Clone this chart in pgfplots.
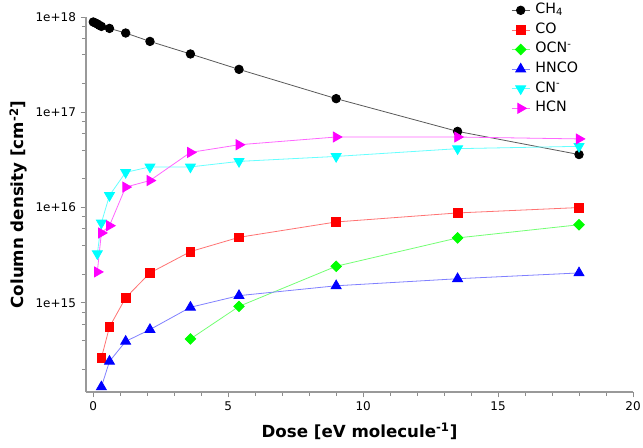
\documentclass[border=0pt]{standalone}
\usepackage{fontspec}
\setmainfont{DejaVu Sans}
\usepackage{pgfplots}
\pgfplotsset{compat=1.18}
\usetikzlibrary{calc}
\definecolor{ocngreen}{RGB}{0,255,0}
\definecolor{cncyan}{RGB}{0,255,255}
\definecolor{hcnmag}{RGB}{255,0,255}
\begin{document}
\begin{tikzpicture}
\begin{axis}[
  scale only axis,
  width=410.25pt, height=281.25pt,
  xmin=-0.27, xmax=20,
  ymode=log, ymin=1.16e14, ymax=1e18,
  clip=false,
  axis lines*=left,
  axis line style={draw=black!40, line width=0.9pt, -},
  tick align=outside,
  tick style={draw=black!45, line width=0.6pt},
  major tick length=4pt, minor tick length=3pt,
  xtick={0,5,10,15,20}, minor xtick={1,2,3,4,6,7,8,9,11,12,13,14,16,17,18,19},
  ytick={1e15,1e16,1e17,1e18},
  yticklabels={1e+15,1e+16,1e+17,1e+18},
  minor ytick={2e14,4e14,6e14,8e14,2e15,4e15,6e15,8e15,2e16,4e16,6e16,8e16,2e17,4e17,6e17,8e17},
  /pgf/number format/assume math mode=true,
  tick label style={font=\fontsize{9}{10}\selectfont},
  xlabel={\bfseries Dose [eV molecule\textsuperscript{-1}]},
  ylabel={\bfseries Column density [cm\textsuperscript{-2}]},
  label style={font=\fontsize{12.5}{14}\selectfont},
  xlabel style={at={(axis description cs:0.5,-0.1059)}, anchor=center},
  ylabel style={at={(axis description cs:-0.1234,0.5)}, anchor=center},
  legend cell align=left,
  legend style={at={(axis description cs:0.777,1.04)}, anchor=north west,
    draw=none, fill=none, font=\fontsize{10.7}{12}\selectfont, row sep=2.6pt,
    inner sep=0pt,
    nodes={inner sep=1pt, text height=7.6pt, text depth=2.5pt}},
  legend image code/.code={\draw[mark repeat=2,mark phase=2] plot coordinates {(0pt,0pt)(6.75pt,0pt)(13.5pt,0pt)};
    \path (16.5pt,0pt);},
]
\coordinate (o) at (rel axis cs:0,0);

% CH4
\addplot[black!65, line width=0.6pt, mark=*, mark size=3.2pt,
  mark options={draw=black, fill=black}] coordinates {
  (0,8.86e17)(0.075,8.65e17)(0.15,8.45e17)(0.225,8.17e17)(0.3,7.97e17)
  (0.6,7.59e17)(1.2,6.79e17)(2.1,5.54e17)(3.6,4.09e17)(5.4,2.82e17)
  (9,1.39e17)(13.5,6.3e16)(18,3.6e16)
};
% CO
\addplot[red!55, line width=0.6pt, mark=square*, mark size=3.3pt,
  mark options={draw=red, fill=red}] coordinates {
  (0.3,2.64e14)(0.6,5.58e14)(1.2,1.13e15)(2.1,2.06e15)(3.6,3.45e15)
  (5.4,4.87e15)(9,7.06e15)(13.5,8.78e15)(18,1.0e16)
};
% OCN-
\addplot[ocngreen!55, line width=0.6pt, mark=square*, mark size=2.8pt,
  mark options={draw=ocngreen, fill=ocngreen, rotate=45}] coordinates {
  (3.6,4.18e14)(5.4,9.18e14)(9,2.42e15)(13.5,4.8e15)(18,6.6e15)
};
% HNCO
\addplot[blue!50, line width=0.6pt, mark=triangle*, mark size=4.3pt,
  mark options={draw=blue, fill=blue}] coordinates {
  (0.3,1.31e14)(0.6,2.43e14)(1.2,3.94e14)(2.1,5.24e14)(3.6,8.98e14)
  (5.4,1.19e15)(9,1.51e15)(13.5,1.79e15)(18,2.06e15)
};
% CN-
\addplot[cncyan!60, line width=0.6pt, mark=triangle*, mark size=4.3pt,
  mark options={draw=cncyan, fill=cncyan, rotate=180}] coordinates {
  (0.15,3.28e15)(0.3,6.9e15)(0.6,1.34e16)(1.2,2.34e16)(2.1,2.67e16)
  (3.6,2.67e16)(5.4,3.05e16)(9,3.44e16)(13.5,4.15e16)(18,4.39e16)
};
% HCN
\addplot[hcnmag!60, line width=0.6pt, mark=triangle*, mark size=4.3pt,
  mark options={draw=hcnmag, fill=hcnmag, rotate=-90}] coordinates {
  (0.15,2.11e15)(0.3,5.41e15)(0.6,6.45e15)(1.2,1.64e16)(2.1,1.92e16)
  (3.6,3.79e16)(5.4,4.56e16)(9,5.5e16)(13.5,5.5e16)(18,5.25e16)
};
\legend{CH\textsubscript{4}, CO, OCN\textsuperscript{-}, HNCO, CN\textsuperscript{-}, HCN}
\end{axis}
\pgfresetboundingbox
\path ($(o)+(-64.5pt,-42pt)$) rectangle ($(o)+(417.75pt,294pt)$);
\end{tikzpicture}
\end{document}
